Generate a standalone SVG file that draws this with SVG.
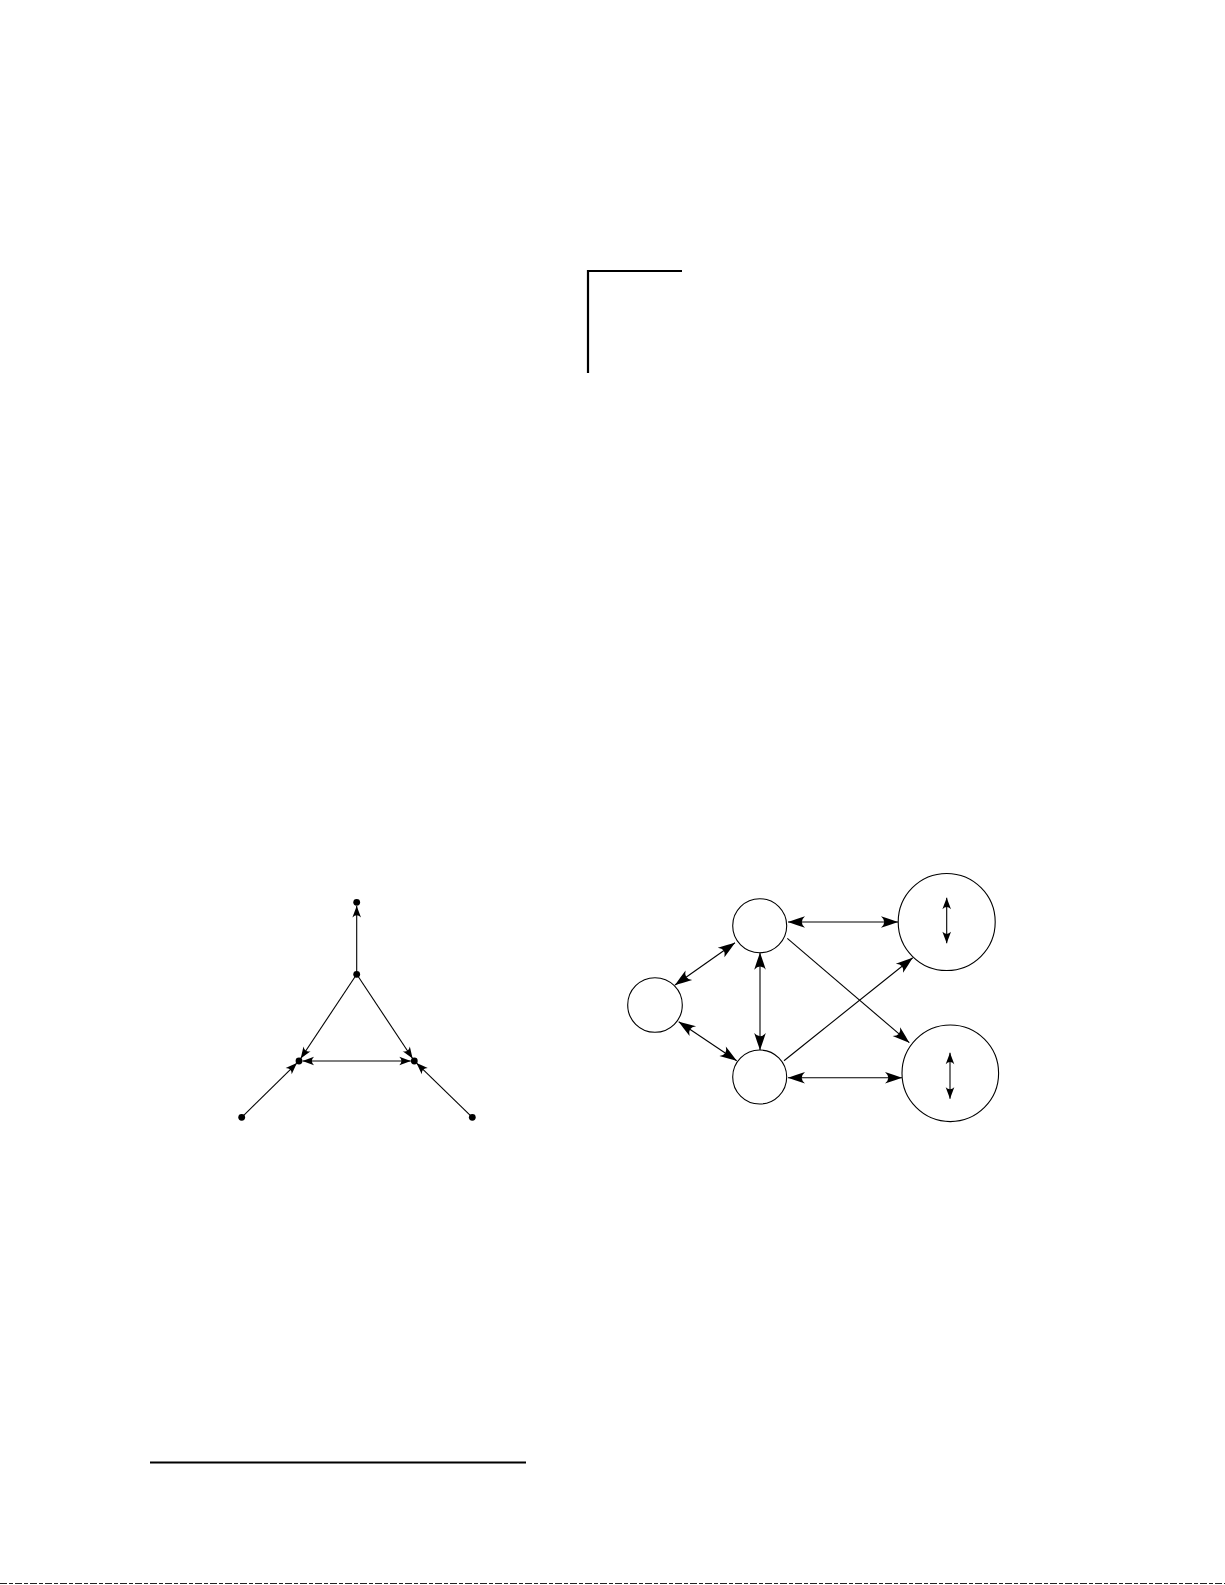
<svg xmlns="http://www.w3.org/2000/svg" width="1225" height="1585" viewBox="0 0 1225 1585">
<style>
.edge{stroke:#000;stroke-width:1.1;fill:none}
.node{stroke:#000;stroke-width:1.1;fill:#fff}
.dot{fill:#000}
.rule{stroke:#000;stroke-width:2.2;fill:none}
</style>
<defs>
<marker id="ah" viewBox="-19 -7 20 14" markerWidth="20" markerHeight="14" refX="0" refY="0" orient="auto-start-reverse" markerUnits="userSpaceOnUse">
<path d="M0,0 Q-7,-2.6 -17,-5.8 Q-10.5,0 -17,5.8 Q-7,2.6 0,0 Z" fill="#000"/>
</marker>
<marker id="as" viewBox="-13 -6 14 12" markerWidth="14" markerHeight="12" refX="0" refY="0" orient="auto-start-reverse" markerUnits="userSpaceOnUse">
<path d="M0,0 Q-5,-1.9 -11.5,-4.3 Q-7.2,0 -11.5,4.3 Q-5,1.9 0,0 Z" fill="#000"/>
</marker>
</defs>
<rect width="1225" height="1585" fill="#fff"/>
<g id="corner-mark">
<path class="rule" d="M588,373 V271 H682"/>
</g>
<g id="footnote-rule">
<line class="rule" x1="150" y1="1462.5" x2="526" y2="1462.5"/>
</g>
<g id="page-edge">
<line x1="0" y1="1583.5" x2="1225" y2="1583.5" stroke="#222" stroke-width="1.2" stroke-dasharray="7 2 4 2"/>
</g>
<g id="left-graph">
<g id="connectors-left">
<line class="edge" x1="356.7" y1="974.3" x2="356.7" y2="906" marker-end="url(#as)"/>
<line class="edge" x1="356.7" y1="974.3" x2="300.7" y2="1058.5" marker-end="url(#as)"/>
<line class="edge" x1="356.7" y1="974.3" x2="412.6" y2="1058.5" marker-end="url(#as)"/>
<line class="edge" x1="302.5" y1="1061" x2="410.8" y2="1061" marker-start="url(#as)" marker-end="url(#as)"/>
<line class="edge" x1="241.7" y1="1117.3" x2="296.9" y2="1063.1" marker-end="url(#as)"/>
<line class="edge" x1="472.3" y1="1117.3" x2="416.5" y2="1063.1" marker-end="url(#as)"/>
</g>
<g id="p-top"><circle class="dot" cx="356.7" cy="902.3" r="3.4"/></g>
<g id="p-mid"><circle class="dot" cx="356.7" cy="974.3" r="3.4"/></g>
<g id="p-left"><circle class="dot" cx="299" cy="1061" r="3.4"/></g>
<g id="p-right"><circle class="dot" cx="414.3" cy="1061" r="3.4"/></g>
<g id="p-bl"><circle class="dot" cx="241.7" cy="1117.3" r="3.4"/></g>
<g id="p-br"><circle class="dot" cx="472.3" cy="1117.3" r="3.4"/></g>
</g>
<g id="right-graph">
<g id="n-a"><circle class="node" cx="655" cy="1005" r="27.3"/></g>
<g id="n-b"><circle class="node" cx="759.7" cy="925.7" r="27"/></g>
<g id="n-c"><circle class="node" cx="759.7" cy="1077" r="27"/></g>
<g id="n-d"><circle class="node" cx="946.7" cy="922" r="48.5"/>
<line class="edge" x1="946.7" y1="897.7" x2="946.7" y2="943.3" marker-start="url(#as)" marker-end="url(#as)"/></g>
<g id="n-e"><circle class="node" cx="950.3" cy="1073.3" r="48.3"/>
<line class="edge" x1="950" y1="1052.7" x2="950" y2="1098.7" marker-start="url(#as)" marker-end="url(#as)"/></g>
<g id="connectors-right">
<line class="edge" x1="788" y1="922" x2="898" y2="922" marker-start="url(#ah)" marker-end="url(#ah)"/>
<line class="edge" x1="788" y1="1077.7" x2="902" y2="1077.7" marker-start="url(#ah)" marker-end="url(#ah)"/>
<line class="edge" x1="675" y1="985" x2="735" y2="942.7" marker-start="url(#ah)" marker-end="url(#ah)"/>
<line class="edge" x1="678.7" y1="1021.7" x2="736.7" y2="1060.7" marker-start="url(#ah)" marker-end="url(#ah)"/>
<line class="edge" x1="760" y1="952.7" x2="760" y2="1050" marker-start="url(#ah)" marker-end="url(#ah)"/>
<line class="edge" x1="787.3" y1="938.3" x2="909.3" y2="1042.7" marker-end="url(#ah)"/>
<line class="edge" x1="784" y1="1060.7" x2="912.7" y2="957.7" marker-end="url(#ah)"/>
</g>
</g>
</svg>
